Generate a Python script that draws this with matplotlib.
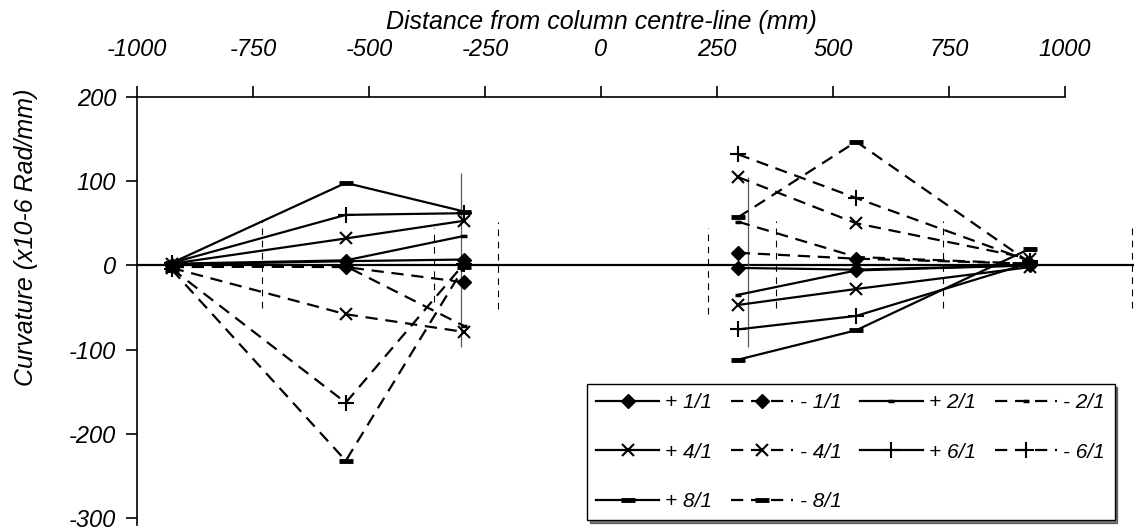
import numpy as np
import matplotlib.pyplot as plt
from matplotlib.lines import Line2D

plt.rcParams['font.family'] = ['Liberation Sans', 'DejaVu Sans']
plt.rcParams['font.style'] = 'italic'
plt.rcParams['axes.unicode_minus'] = False

# gauge positions (mm from column centre-line)
x_left = [-925, -550, -295]
x_right = [295, 550, 925]

labels = ['+ 1/1', '- 1/1', '+ 2/1', '- 2/1', '+ 4/1', '- 4/1',
          '+ 6/1', '- 6/1', '+ 8/1', '- 8/1']

# curvature (x10-6 rad/mm), left side then right side
left_vals = {
    '+ 1/1': [1, 5, 7],
    '- 1/1': [-1, -2, -20],
    '+ 2/1': [2, 6, 35],
    '- 2/1': [-2, -1, -72],
    '+ 4/1': [2, 32, 53],
    '- 4/1': [-3, -58, -79],
    '+ 6/1': [3, 60, 62],
    '- 6/1': [-4, -163, 2],
    '+ 8/1': [3, 98, 64],
    '- 8/1': [-5, -232, -2],
}
right_vals = {
    '+ 1/1': [-3, -5, 0],
    '- 1/1': [15, 8, 2],
    '+ 2/1': [-35, -6, 0],
    '- 2/1': [52, 10, 2],
    '+ 4/1': [-47, -28, -2],
    '- 4/1': [105, 50, 8],
    '+ 6/1': [-76, -60, 3],
    '- 6/1': [132, 80, 5],
    '+ 8/1': [-112, -77, 20],
    '- 8/1': [57, 147, 3],
}

# thin vertical reference marks
dash_x = [-730, -360, -222, 230, 377, 737, 1144]
dash_top = [53, 45, 51, 45, 53, 53, 50]
dash_bot = [-50, -44, -52, -58, -50, -50, -50]
solid_x = [-302, 317]
solid_top = [110, 105]
solid_bot = [-97, -97]

markers = {'1/1': ('D', 7, 1), '2/1': ('_', 5, 2.5), '4/1': ('x', 9, 1.5),
           '6/1': ('+', 11, 1.5), '8/1': ('_', 10, 3.5)}

fig = plt.figure(figsize=(11.34, 5.31), dpi=100)
ax = fig.add_axes([137 / 1134, 1 - 525 / 531, 997 / 1134, 428 / 531])
ax.set_xlim(-1000, 1148.7)
ax.set_ylim(-308.3, 200)

ax.axhline(0, color='black', lw=1.6, zorder=1)
ax.vlines(dash_x, dash_bot, dash_top, colors='black', lw=0.8,
          linestyles=(0, (6, 5)), zorder=1)
ax.vlines(solid_x, solid_bot, solid_top, colors='0.35', lw=0.9, zorder=1)

handles = {}
for lab in labels:
    m, ms, mew = markers[lab[2:]]
    ls = '-' if lab[0] == '+' else (0, (5.5, 3.5))
    kw = dict(color='black', lw=1.6, ls=ls, marker=m, ms=ms, mew=mew,
              mfc='black', mec='black', zorder=3)
    ax.plot(x_left, left_vals[lab], **kw)
    ax.plot(x_right, right_vals[lab], **kw)
    handles[lab] = Line2D([], [], **kw)

for s in ['bottom', 'right']:
    ax.spines[s].set_visible(False)
ax.spines['top'].set_bounds(-1000, 1000)
ax.spines['top'].set_linewidth(1.2)
ax.spines['left'].set_linewidth(1.2)

ax.xaxis.tick_top()
ax.xaxis.set_label_position('top')
ax.set_xticks(np.arange(-1000, 1001, 250))
ax.set_yticks(np.arange(-300, 201, 100))
ax.tick_params(axis='x', direction='out', length=8, width=1.2, pad=18, labelsize=17)
ax.tick_params(axis='y', direction='out', length=8, width=1.2, pad=7, labelsize=17)
ax.set_xlabel('Distance from column centre-line (mm)', fontsize=18)
ax.set_ylabel('Curvature (x10-6 Rad/mm)', fontsize=18)
ax.xaxis.set_label_coords(1000 / 2148.7, 1 + 68 / 428)
ax.yaxis.set_label_coords(-99 / 997, 0.673)

order = ['+ 1/1', '+ 4/1', '+ 8/1', '- 1/1', '- 4/1', '- 8/1',
         '+ 2/1', '+ 6/1', '- 2/1', '- 6/1']
leg = ax.legend([handles[k] for k in order], order, ncol=4, loc='upper left',
                bbox_to_anchor=(587 / 1134, 1 - 384 / 531),
                bbox_transform=fig.transFigure, borderaxespad=0,
                fontsize=15, handlelength=3.0, handletextpad=0.3,
                columnspacing=0.9, labelspacing=1.45, borderpad=0.45,
                frameon=True, fancybox=False, shadow={'color': 'black'},
                framealpha=1, edgecolor='black')
leg.get_frame().set_linewidth(1.0)

fig.savefig('out.png', dpi=100)
